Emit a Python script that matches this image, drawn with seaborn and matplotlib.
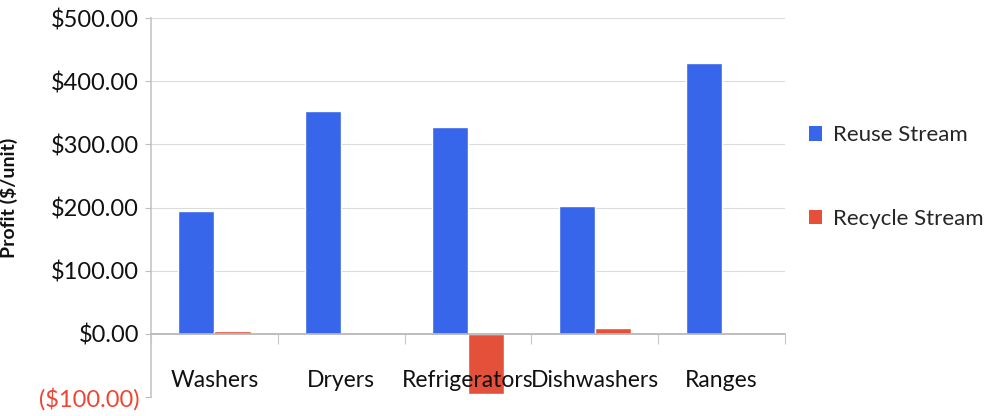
import matplotlib
matplotlib.use("Agg")
import matplotlib.pyplot as plt
import matplotlib.ticker as mticker
from matplotlib.patches import Patch
import numpy as np
import pandas as pd
import seaborn as sns

categories = ["Washers", "Dryers", "Refrigerators", "Dishwashers", "Ranges"]
reuse_profit = [195, 353, 328, 203, 429]
recycle_profit = [4, 1, -95, 9, -2]
series_names = ["Reuse Stream", "Recycle Stream"]
series_colors = ["#3866EA", "#E5503A"]
y_ticks = [-100, 0, 100, 200, 300, 400, 500]

df = pd.DataFrame({
    "Appliance": categories * 2,
    "Profit": reuse_profit + recycle_profit,
    "Stream": [series_names[0]] * len(categories) + [series_names[1]] * len(categories),
})

sns.set_theme(style="white")
plt.rcParams["font.family"] = ["Lato", "DejaVu Sans"]

fig = plt.figure(figsize=(9.9, 4.16), dpi=100)
ax = fig.add_axes([0.1525, 0.0457, 0.6405, 0.911])

sns.barplot(data=df, x="Appliance", y="Profit", hue="Stream",
            palette=series_colors, width=0.57, saturation=1,
            order=categories, hue_order=series_names, ax=ax, legend=False)

ax.set_ylim(-100, 500)
ax.set_xlim(-0.5, len(categories) - 0.5)
ax.set_yticks(y_ticks)
# axis text is drawn over the bars
ax.set_axisbelow(False)

def money(v, pos=None):
    return f"(${abs(v):.2f})" if v < 0 else f"${v:.2f}"

ax.yaxis.set_major_formatter(mticker.FuncFormatter(money))
ax.tick_params(axis="y", length=4, width=0.8, color="#BFBFBF",
               labelsize=17, pad=4.5, left=True)
for lbl, v in zip(ax.get_yticklabels(), y_ticks):
    lbl.set_color("#EE4634" if v < 0 else "#111111")

# horizontal gridlines above zero
for v in y_ticks[2:]:
    ax.axhline(v, color="#DCDCDC", lw=0.8, zorder=0)

# category axis sits on the zero line
ax.spines["bottom"].set_position(("data", 0))
ax.spines["bottom"].set_color("#B5B5B5")
ax.spines["left"].set_color("#C8C8C8")
ax.spines["top"].set_visible(False)
ax.spines["right"].set_visible(False)
ax.set_xticks(np.arange(len(categories)))
ax.set_xticklabels(categories)
ax.set_xticks(np.arange(len(categories) + 1) - 0.5, minor=True)
ax.tick_params(axis="x", which="major", length=0, labelsize=16.5, pad=26,
               labelcolor="#111111")
ax.tick_params(axis="x", which="minor", length=7, width=0.8, color="#C8C8C8",
               direction="out", bottom=True)
ax.set_xlabel("")
ax.set_ylabel("Profit ($/unit)", fontsize=14, fontweight="bold",
              color="#111111")
ax.yaxis.set_label_coords(-0.21, 0.525)

handles = [Patch(facecolor=c, edgecolor="none") for c in series_colors]
fig.legend(handles, series_names, loc="upper left", bbox_to_anchor=(0.808, 0.72),
           frameon=False, fontsize=16, handlelength=0.6, handleheight=0.6,
           handletextpad=0.5, labelspacing=2.85, borderaxespad=0)

fig.savefig("out.png", dpi=100)
